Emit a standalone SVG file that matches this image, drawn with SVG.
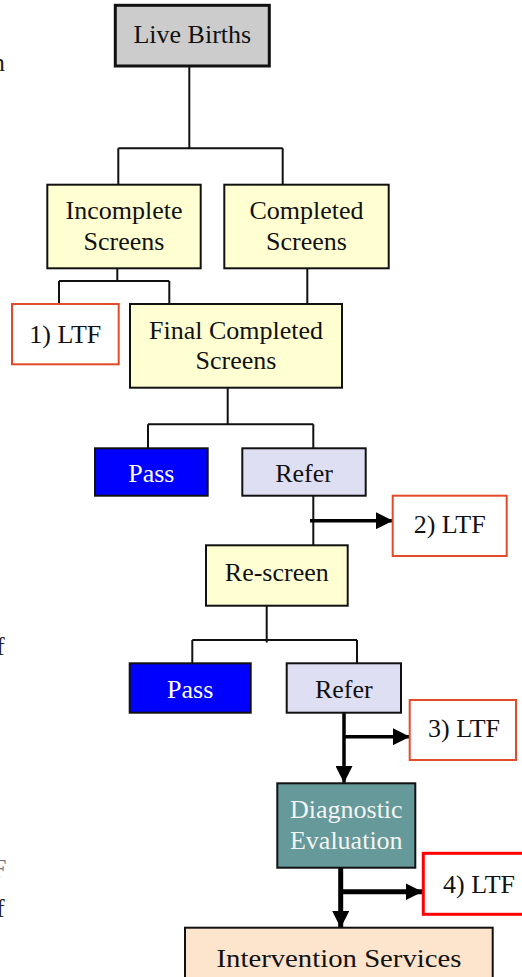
<svg xmlns="http://www.w3.org/2000/svg" width="522" height="977" viewBox="0 0 522 977">
  <defs>
    <style>
      text { font-family: "Liberation Serif", "Times New Roman", serif; font-size: 26px; fill: #111; text-anchor: middle; }
      .box { stroke: #111; stroke-width: 2; }
      .yellow { fill: #ffffd2; }
      .pass { fill: #0000ff; }
      .refer { fill: #dedff2; }
      .ltf { fill: #ffffff; stroke: #e24a2a; stroke-width: 2; }
      .line { fill: none; stroke: #111; stroke-width: 2; }
      .thick { fill: none; stroke: #000; stroke-width: 3.5; }
      .heavy { fill: none; stroke: #000; stroke-width: 5; }
      .stray { text-anchor: start; fill: #222; }
    </style>
    <marker id="head" viewBox="0 0 10 10" refX="10" refY="5" markerWidth="17" markerHeight="17" markerUnits="userSpaceOnUse" orient="auto">
      <path d="M0,0 L10,5 L0,10 Z" fill="#000"/>
    </marker>
  </defs>

  <rect width="522" height="977" fill="#ffffff"/>

  <!-- fragments of neighbouring page text at the left edge -->
  <g id="margin-text">
    <text class="stray" x="-8" y="71">n</text>
    <text class="stray" x="-4" y="655">f</text>
    <text class="stray" x="-8" y="877" font-size="20" style="fill:#777">F</text>
    <text class="stray" x="-4" y="917">f</text>
  </g>

  <!-- connectors -->
  <g id="connectors">
    <!-- Live Births split -->
    <path class="line" d="M189.3,66 V148.3 M118.3,148.3 H282.7 M118.3,148.3 V187.5 M282.7,148.3 V184.7"/>
    <!-- Incomplete Screens split -->
    <path class="line" d="M117.3,268.3 V281 M59,281 H169.3 M59,281 V304 M169.3,281 V304"/>
    <!-- Completed Screens to Final -->
    <path class="line" d="M307.3,268.3 V304"/>
    <!-- Final split -->
    <path class="line" d="M227.7,387.7 V424.3 M148,424.3 H313.3 M148,424.3 V448.3 M313.3,424.3 V448.3"/>
    <!-- Refer to Re-screen -->
    <path class="line" d="M313.3,495.7 V545.3"/>
    <path class="thick" d="M310,520.7 H393" marker-end="url(#head)"/>
    <!-- Re-screen split -->
    <path class="line" d="M266.7,605.7 V642.5 M192.3,640 H357 M192.3,640 V663.3 M357,640 V663.3"/>
    <!-- Refer to Diagnostic -->
    <path class="thick" d="M344,712.7 V783" marker-end="url(#head)"/>
    <path class="thick" d="M344,736.7 H410" marker-end="url(#head)"/>
    <!-- Diagnostic to Intervention -->
    <path class="heavy" d="M340.7,867.7 V928" marker-end="url(#head)"/>
    <path class="heavy" d="M340.7,891.7 H422.5" marker-end="url(#head)"/>
  </g>

  <g id="live-births">
    <rect x="115.3" y="5.3" width="154" height="60.7" fill="#cccccc" stroke="#111" stroke-width="3"/>
    <text x="192.3" y="43">Live Births</text>
  </g>

  <g id="incomplete-screens">
    <rect class="box yellow" x="47.3" y="184.7" width="153.4" height="83.6"/>
    <text x="124" y="218.5">Incomplete</text>
    <text x="124" y="249.5">Screens</text>
  </g>

  <g id="completed-screens">
    <rect class="box yellow" x="224.3" y="184.7" width="164.4" height="83.6"/>
    <text x="306.5" y="218.5">Completed</text>
    <text x="306.5" y="249.5">Screens</text>
  </g>

  <g id="ltf-1">
    <rect class="ltf" x="12" y="304" width="106.7" height="60.3"/>
    <text x="65.3" y="342.5">1) LTF</text>
  </g>

  <g id="final-completed-screens">
    <rect class="box yellow" x="130" y="304" width="212" height="83.7"/>
    <text x="236" y="339.3">Final Completed</text>
    <text x="236" y="369.3">Screens</text>
  </g>

  <g id="pass-1">
    <rect class="box pass" x="95" y="448.3" width="112.7" height="47.4"/>
    <text x="151.3" y="482" style="fill:#ffffff">Pass</text>
  </g>

  <g id="refer-1">
    <rect class="box refer" x="242.3" y="448.3" width="123.4" height="47.4"/>
    <text x="304" y="482">Refer</text>
  </g>

  <g id="ltf-2">
    <rect class="ltf" x="392.7" y="495.7" width="114" height="60.3"/>
    <text x="449.7" y="533.3">2) LTF</text>
  </g>

  <g id="re-screen">
    <rect class="box yellow" x="206" y="545.3" width="141.7" height="60.4"/>
    <text x="276.8" y="580.5">Re-screen</text>
  </g>

  <g id="pass-2">
    <rect class="box pass" x="129.7" y="663.3" width="121" height="49.4"/>
    <text x="190.2" y="698" style="fill:#ffffff">Pass</text>
  </g>

  <g id="refer-2">
    <rect class="box refer" x="286.7" y="663.3" width="114.3" height="49.4"/>
    <text x="343.8" y="698">Refer</text>
  </g>

  <g id="ltf-3">
    <rect class="ltf" x="409.7" y="700" width="106.3" height="60"/>
    <text x="464" y="736.5">3) LTF</text>
  </g>

  <g id="diagnostic-evaluation">
    <rect class="box" x="277.3" y="783.3" width="138" height="84.4" fill="#669999"/>
    <text x="346.3" y="818.3" style="fill:#f4f4f4">Diagnostic</text>
    <text x="346.3" y="849.3" style="fill:#f4f4f4">Evaluation</text>
  </g>

  <g id="ltf-4">
    <rect x="423.3" y="853.3" width="110" height="61" fill="#ffffff" stroke="#ff0000" stroke-width="3"/>
    <text x="479" y="892.5">4) LTF</text>
  </g>

  <g id="intervention-services">
    <rect class="box" x="185" y="927.7" width="307.7" height="60" fill="#fde4cc"/>
    <text x="339" y="966.7" font-size="28" textLength="245" lengthAdjust="spacingAndGlyphs">Intervention Services</text>
  </g>
</svg>
